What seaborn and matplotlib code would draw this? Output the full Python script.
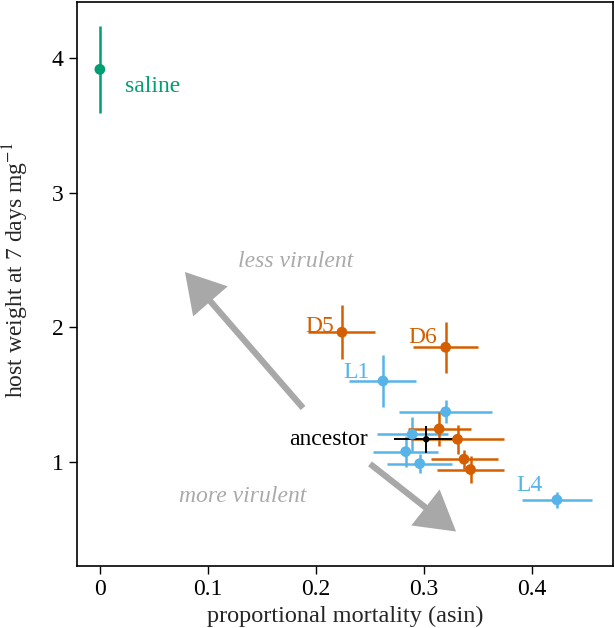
import pandas as pd
import matplotlib
matplotlib.use("Agg")
import matplotlib.pyplot as plt
import seaborn as sns


# --- Data ---
treatment = ["L", "L", "L", "L", "L", "L",
             "D", "D", "D", "D", "D", "D",
             "ancestor", "saline"]
mortality = [0.262, 0.320, 0.289, 0.283, 0.296, 0.423,
             0.224, 0.320, 0.314, 0.331, 0.337, 0.343,
             0.302, 0.000]
weight = [1.601, 1.372, 1.205, 1.076, 0.987, 0.718,
          1.963, 1.851, 1.245, 1.168, 1.020, 0.943,
          1.168, 3.915]
mortality_err = [0.031, 0.043, 0.033, 0.030, 0.030, 0.032,
                 0.031, 0.030, 0.029, 0.043, 0.031, 0.031,
                 0.030, 0.000]
weight_err = [0.19, 0.086, 0.13, 0.117, 0.068, 0.06,
              0.20, 0.19, 0.126, 0.108, 0.07, 0.10,
              0.10, 0.324]
point_label = ["L1", "", "", "", "", "L4",
               "D5", "D6", "", "", "", "",
               "ancestor", "saline"]

x_ticks = [0, 0.1, 0.2, 0.3, 0.4]
x_tick_labels = ["0", "0.1", "0.2", "0.3", "0.4"]
y_ticks = [1, 2, 3, 4]

df = pd.DataFrame({
    "treatment": treatment,
    "mortality": mortality,
    "weight": weight,
    "mortality_err": mortality_err,
    "weight_err": weight_err,
    "label": point_label,
})

colors = {"L": "#56B4E9", "D": "#D55E00", "ancestor": "#000000", "saline": "#009E73"}

# label placement: (dx, dy, ha) relative to the point, in data units
label_offsets = {
    "L1": (-0.012, 0.02, "right"),
    "L4": (-0.013, 0.062, "right"),
    "D5": (-0.007, 0.0, "right"),
    "D6": (-0.008, 0.03, "right"),
    "ancestor": (-0.054, -0.042, "right"),
    "saline": (0.023, -0.165, "left"),
}

FS = 17


# --- Plot styling ---
sns.set_theme(style="ticks")
plt.rcParams["font.family"] = ["Liberation Serif", "DejaVu Serif"]
plt.rcParams["mathtext.fontset"] = "stix"

fig, ax = plt.subplots(figsize=(6.15, 6.28), dpi=100)
fig.subplots_adjust(left=0.125, right=0.997, top=0.997, bottom=0.099)


# --- Error bars, drawn group by group so orange sits over blue ---
for grp in ["L", "D", "ancestor", "saline"]:
    sub = df[df["treatment"] == grp]
    lw = 1.4 if grp == "ancestor" else 1.8
    ax.errorbar(
        sub["mortality"], sub["weight"],
        xerr=sub["mortality_err"], yerr=sub["weight_err"],
        fmt="none", ecolor=colors[grp], elinewidth=lw, capsize=0, zorder=2,
    )
    sns.scatterplot(
        data=sub, x="mortality", y="weight",
        color=colors[grp], s=22 if grp == "ancestor" else 60,
        edgecolor="none", legend=False, zorder=3, ax=ax,
    )


# --- Point labels ---
for _, row in df[df["label"] != ""].iterrows():
    dx, dy, ha = label_offsets[row["label"]]
    ax.text(row["mortality"] + dx, row["weight"] + dy, row["label"],
            color=colors[row["treatment"]], ha=ha, va="baseline", fontsize=FS)


# --- Direction arrows ---
arrow_style = "simple,head_length=28,head_width=33,tail_width=4.5"
ax.annotate("", xy=(0.0787, 2.41), xytext=(0.188, 1.40),
            arrowprops=dict(arrowstyle=arrow_style, color="#A8A8A8",
                            mutation_scale=1, shrinkA=0, shrinkB=0, lw=0))
ax.annotate("", xy=(0.3296, 0.483), xytext=(0.250, 0.985),
            arrowprops=dict(arrowstyle=arrow_style, color="#A8A8A8",
                            mutation_scale=1, shrinkA=0, shrinkB=0, lw=0))
ax.text(0.181, 2.485, "less virulent", style="italic", color="#AAAAAA",
        ha="center", va="center", fontsize=FS)
ax.text(0.132, 0.74, "more virulent", style="italic", color="#AAAAAA",
        ha="center", va="center", fontsize=FS)


# --- Axes configuration ---
ax.set_xlim(-0.0213, 0.475)
ax.set_ylim(0.228, 4.416)
ax.set_xticks(x_ticks)
ax.set_xticklabels(x_tick_labels)
ax.set_yticks(y_ticks)

ax.set_xlabel("proportional mortality (asin)", fontsize=17.5)
ax.set_ylabel("host weight at 7 days mg$^{-1}$", fontsize=FS)
ax.yaxis.set_label_coords(-0.086, 0.525)

for spine in ax.spines.values():
    spine.set_color("black")
    spine.set_linewidth(1.2)

ax.tick_params(axis="both", direction="out", length=6, width=1,
               labelsize=FS, colors="black")


# --- Render ---
fig.savefig("out.png", dpi=100)
